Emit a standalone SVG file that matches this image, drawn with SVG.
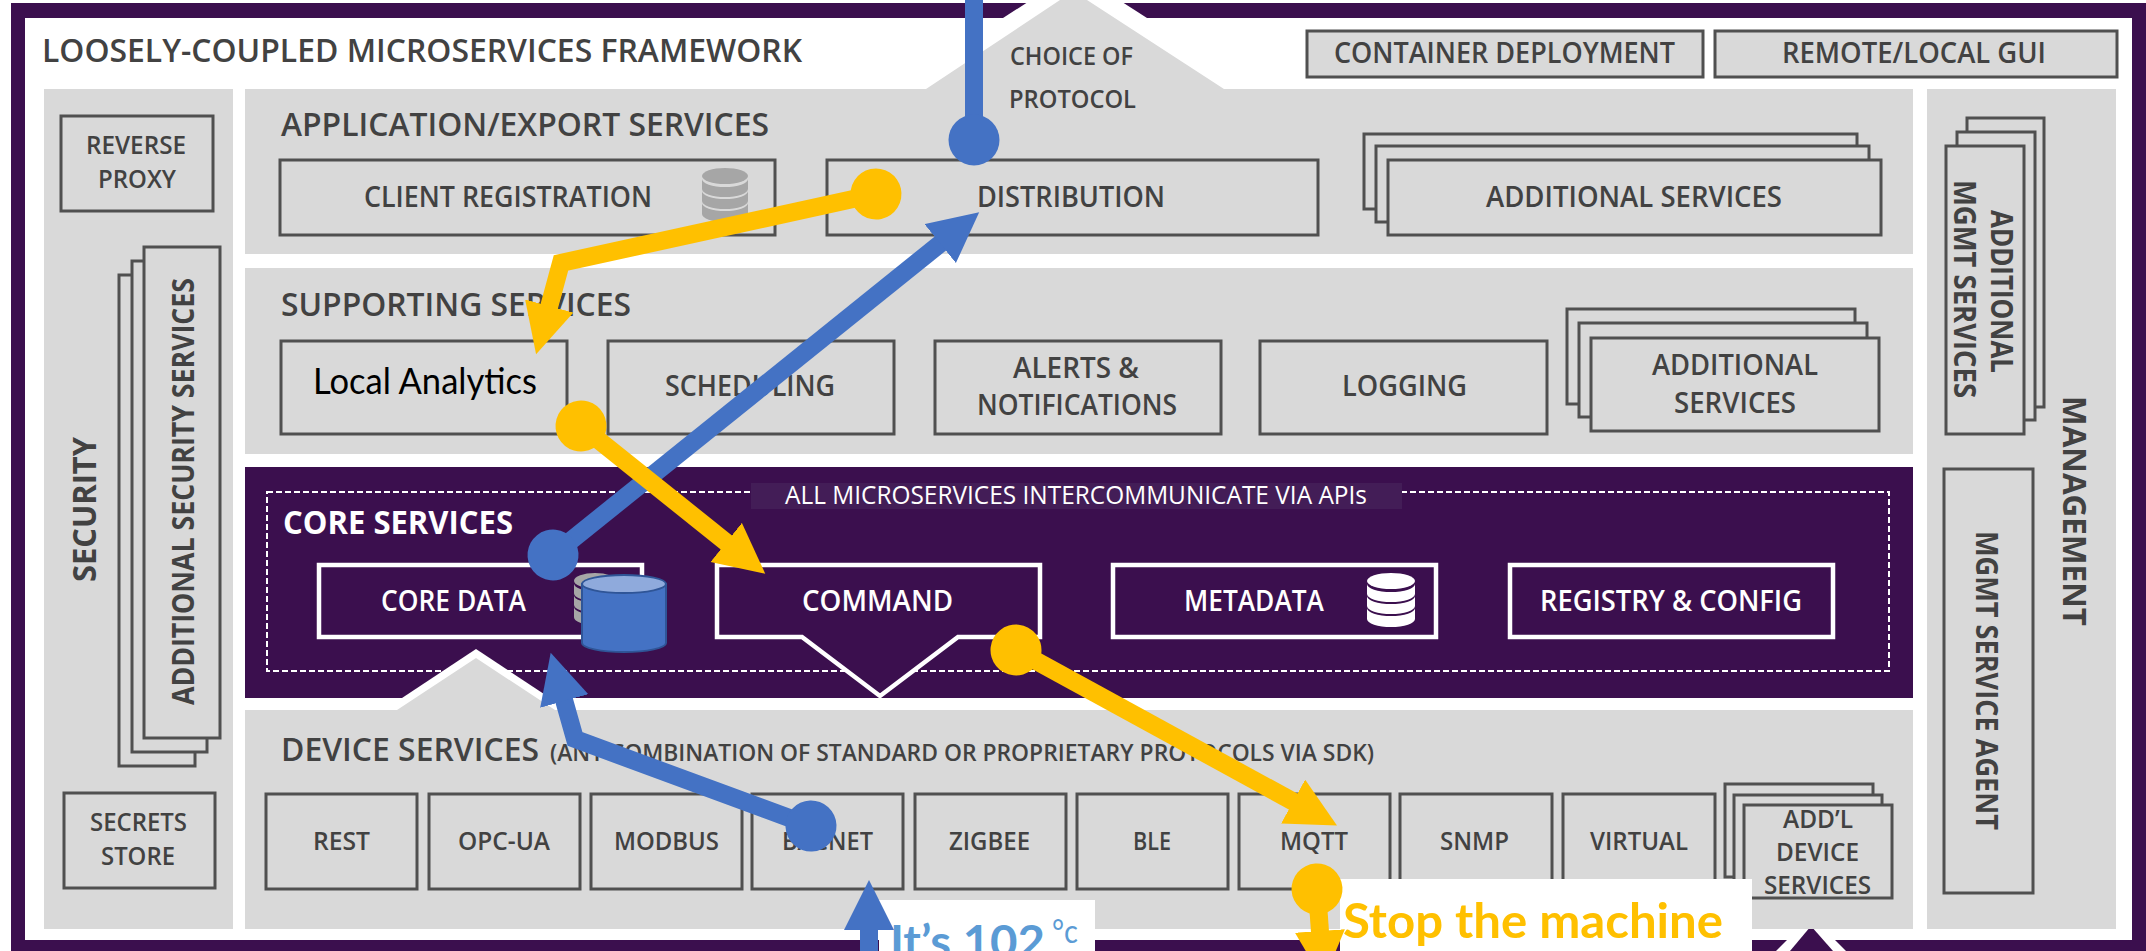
<svg xmlns="http://www.w3.org/2000/svg" width="2146" height="951" viewBox="0 0 2146 951">
<style>
text{font-family:"Open Sans","Liberation Sans",sans-serif;font-weight:600;fill:#424242;font-size:26px}
.h{font-size:32px}
.m{font-size:29px}
.r{font-weight:700;font-size:31px}
.w{fill:#fff}
.cal{font-family:Lato,"Liberation Sans",sans-serif}
.panel{fill:#d9d9d9}
.box{fill:#d9d9d9;stroke:#505050;stroke-width:3}
.cbox{fill:#3b0f4e;stroke:#fff;stroke-width:4.5}
.bl{fill:none;stroke:#4472c4;stroke-width:18}
.ye{fill:none;stroke:#ffc000;stroke-width:18}
</style>
<defs>
<marker id="aB" markerUnits="userSpaceOnUse" markerWidth="54" markerHeight="54" refX="1" refY="25" orient="auto"><path d="M0,0L50,25L0,50z" fill="#4472c4"/></marker>
<marker id="aY" markerUnits="userSpaceOnUse" markerWidth="54" markerHeight="54" refX="1" refY="25" orient="auto"><path d="M0,0L50,25L0,50z" fill="#ffc000"/></marker>
<marker id="dB" markerUnits="userSpaceOnUse" markerWidth="54" markerHeight="54" refX="26" refY="26" orient="auto"><circle cx="26" cy="26" r="25.5" fill="#4472c4"/></marker>
<marker id="dY" markerUnits="userSpaceOnUse" markerWidth="54" markerHeight="54" refX="26" refY="26" orient="auto"><circle cx="26" cy="26" r="25.5" fill="#ffc000"/></marker>
<symbol id="db" viewBox="0 0 46 54" preserveAspectRatio="none">
<ellipse cx="23" cy="8" rx="23" ry="8"/>
<path d="M0,11a23,8 0 0 0 46,0v10a23,8 0 0 1 -46,0z"/>
<path d="M0,23a23,8 0 0 0 46,0v10a23,8 0 0 1 -46,0z"/>
<path d="M0,35a23,8 0 0 0 46,0v11a23,8 0 0 1 -46,0z"/>
</symbol>
</defs>
<rect width="2146" height="951" fill="#fff"/>
<g id="frame">
<rect x="11" y="3" width="2135" height="948" fill="#3b0f4e"/>
<rect x="25" y="18" width="2107" height="922" fill="#fff"/>
<polygon points="1031,0 1119,0 1147,18 1003,18" fill="#fff"/>
<polygon points="1776,951 1811,916 1846,951" fill="#fff"/>
<polygon points="1790,951 1811,926 1833,951" fill="#3b0f4e"/>
<text class="h" x="42" y="62" textLength="760" lengthAdjust="spacingAndGlyphs">LOOSELY-COUPLED MICROSERVICES FRAMEWORK</text>
</g>
<g id="container-deployment"><rect class="box" x="1307" y="31" width="396" height="46"/><text x="1334" y="63" class="m" textLength="341" lengthAdjust="spacingAndGlyphs">CONTAINER DEPLOYMENT</text></g>
<g id="remote-local-gui"><rect class="box" x="1715" y="31" width="402" height="46"/><text x="1782" y="63" class="m" textLength="264" lengthAdjust="spacingAndGlyphs">REMOTE/LOCAL GUI</text></g>

<g id="security">
<rect class="panel" x="44" y="89" width="189" height="840"/>
<text class="r" transform="translate(96,582) rotate(-90)" style="font-size:33px" textLength="145" lengthAdjust="spacingAndGlyphs">SECURITY</text>
</g>
<g id="reverse-proxy"><rect class="box" x="61" y="116" width="152" height="95"/>
<text x="86" y="154" textLength="100" lengthAdjust="spacingAndGlyphs">REVERSE</text>
<text x="98" y="188" textLength="78" lengthAdjust="spacingAndGlyphs">PROXY</text></g>
<g id="additional-security-services">
<rect class="box" x="119" y="275" width="76" height="491"/>
<rect class="box" x="132" y="261" width="75" height="491"/>
<rect class="box" x="144" y="247" width="76" height="491"/>
<text class="r" transform="translate(194,705) rotate(-90)" textLength="427" lengthAdjust="spacingAndGlyphs">ADDITIONAL SECURITY SERVICES</text></g>
<g id="secrets-store"><rect class="box" x="64" y="793" width="151" height="95"/>
<text x="90" y="831" textLength="97" lengthAdjust="spacingAndGlyphs">SECRETS</text>
<text x="101" y="865" textLength="74" lengthAdjust="spacingAndGlyphs">STORE</text></g>

<g id="application-export-services">
<path class="panel" d="M245,89H926L1060,0H1087L1224,89H1913V254H245z"/>
<text x="1010" y="65" textLength="123" lengthAdjust="spacingAndGlyphs">CHOICE OF</text>
<text x="1009" y="108" textLength="127" lengthAdjust="spacingAndGlyphs">PROTOCOL</text>
<text class="h" x="281" y="136" textLength="488" lengthAdjust="spacingAndGlyphs">APPLICATION/EXPORT SERVICES</text>
</g>
<g id="client-registration"><rect class="box" x="280" y="160" width="495" height="75"/>
<text class="m" x="364" y="207" textLength="288" lengthAdjust="spacingAndGlyphs">CLIENT REGISTRATION</text>
<use href="#db" x="702" y="168" width="46" height="54" fill="#a6a6a6"/></g>
<g id="distribution"><rect class="box" x="827" y="160" width="491" height="75"/>
<text class="m" x="977" y="207" textLength="188" lengthAdjust="spacingAndGlyphs">DISTRIBUTION</text></g>
<g id="additional-services-app">
<rect class="box" x="1364" y="134" width="493" height="75"/>
<rect class="box" x="1376" y="146" width="493" height="76"/>
<rect class="box" x="1388" y="160" width="493" height="75"/>
<text class="m" x="1486" y="207" textLength="296" lengthAdjust="spacingAndGlyphs">ADDITIONAL SERVICES</text></g>

<g id="supporting-services">
<rect class="panel" x="245" y="268" width="1668" height="186"/>
<text class="h" x="281" y="316" textLength="350" lengthAdjust="spacingAndGlyphs">SUPPORTING SERVICES</text>
</g>
<g id="local-analytics"><rect class="box" x="281" y="341" width="286" height="93"/>
<text class="cal" x="313" y="394" style="font-size:37px;font-weight:400;fill:#000" textLength="224" lengthAdjust="spacingAndGlyphs">Local Analytics</text></g>
<g id="scheduling"><rect class="box" x="608" y="341" width="286" height="93"/>
<text class="m" x="665" y="396" textLength="170" lengthAdjust="spacingAndGlyphs">SCHEDULING</text></g>
<g id="alerts-notifications"><rect class="box" x="935" y="341" width="286" height="93"/>
<text class="m" x="1013" y="378" textLength="126" lengthAdjust="spacingAndGlyphs">ALERTS &amp;</text>
<text class="m" x="977" y="415" textLength="200" lengthAdjust="spacingAndGlyphs">NOTIFICATIONS</text></g>
<g id="logging"><rect class="box" x="1260" y="341" width="287" height="93"/>
<text class="m" x="1342" y="396" textLength="125" lengthAdjust="spacingAndGlyphs">LOGGING</text></g>
<g id="additional-services-sup">
<rect class="box" x="1567" y="309" width="288" height="95"/>
<rect class="box" x="1579" y="323" width="288" height="94"/>
<rect class="box" x="1591" y="338" width="288" height="93"/>
<text class="m" x="1652" y="375" textLength="166" lengthAdjust="spacingAndGlyphs">ADDITIONAL</text>
<text class="m" x="1674" y="413" textLength="122" lengthAdjust="spacingAndGlyphs">SERVICES</text></g>

<g id="core-services">
<rect x="245" y="467" width="1668" height="231" fill="#3b0f4e"/>
<rect x="267" y="492" width="1622" height="179" fill="none" stroke="#fff" stroke-width="2" stroke-dasharray="6 3"/>
<rect x="751" y="483" width="651" height="26" fill="#431d57"/>
<text class="w" x="785" y="504" style="font-weight:400;font-size:25px" textLength="582" lengthAdjust="spacingAndGlyphs">ALL MICROSERVICES INTERCOMMUNICATE VIA APIs</text>
<text class="h w" x="283" y="534" style="font-weight:700" textLength="230" lengthAdjust="spacingAndGlyphs">CORE SERVICES</text>
</g>
<g id="core-data"><rect class="cbox" x="319" y="565" width="323" height="72"/>
<text class="m w" x="381" y="611" textLength="145" lengthAdjust="spacingAndGlyphs">CORE DATA</text>
<use href="#db" x="574" y="573" width="42" height="52" fill="#a6a6a6"/>
<path d="M582,584V643C582,648 601,652 624,652S666,648 666,643V584z" fill="#4472c4" stroke="#2f5597" stroke-width="2"/>
<ellipse cx="624" cy="584" rx="42" ry="9" fill="#8faadc" stroke="#2f5597" stroke-width="2"/></g>
<g id="command"><path class="cbox" d="M717,565H1040V637H958L880,696L802,637H717z"/>
<text class="m w" x="802" y="611" textLength="151" lengthAdjust="spacingAndGlyphs">COMMAND</text></g>
<g id="metadata"><rect class="cbox" x="1113" y="565" width="323" height="72"/>
<text class="m w" x="1184" y="611" textLength="140" lengthAdjust="spacingAndGlyphs">METADATA</text>
<use href="#db" x="1367" y="573" width="48" height="54" fill="#fff"/></g>
<g id="registry-config"><rect class="cbox" x="1510" y="565" width="323" height="72"/>
<text class="m w" x="1540" y="611" textLength="262" lengthAdjust="spacingAndGlyphs">REGISTRY &amp; CONFIG</text></g>

<g id="device-services">
<polygon points="402,698 476,649 550,698 555,712 397,712" fill="#fff"/>
<path class="panel" d="M245,710H397L476,658L555,710H1913V929H245z"/>
<text class="h" x="281" y="761" textLength="258" lengthAdjust="spacingAndGlyphs">DEVICE SERVICES</text>
<text x="550" y="761" style="font-size:23px" textLength="824" lengthAdjust="spacingAndGlyphs">(ANY COMBINATION OF STANDARD OR PROPRIETARY PROTOCOLS VIA SDK)</text>
</g>
<g id="rest"><rect class="box" x="266" y="794" width="151" height="95"/><text x="313" y="850" textLength="57" lengthAdjust="spacingAndGlyphs">REST</text></g>
<g id="opc-ua"><rect class="box" x="429" y="794" width="151" height="95"/><text x="458" y="850" textLength="92" lengthAdjust="spacingAndGlyphs">OPC-UA</text></g>
<g id="modbus"><rect class="box" x="591" y="794" width="151" height="95"/><text x="614" y="850" textLength="105" lengthAdjust="spacingAndGlyphs">MODBUS</text></g>
<g id="bacnet"><rect class="box" x="752" y="794" width="151" height="95"/><text x="782" y="850" textLength="91" lengthAdjust="spacingAndGlyphs">BACNET</text></g>
<g id="zigbee"><rect class="box" x="915" y="794" width="151" height="95"/><text x="949" y="850" textLength="81" lengthAdjust="spacingAndGlyphs">ZIGBEE</text></g>
<g id="ble"><rect class="box" x="1077" y="794" width="151" height="95"/><text x="1133" y="850" textLength="38" lengthAdjust="spacingAndGlyphs">BLE</text></g>
<g id="mqtt"><rect class="box" x="1239" y="794" width="151" height="95"/><text x="1280" y="850" textLength="68" lengthAdjust="spacingAndGlyphs">MQTT</text></g>
<g id="snmp"><rect class="box" x="1400" y="794" width="152" height="95"/><text x="1440" y="850" textLength="69" lengthAdjust="spacingAndGlyphs">SNMP</text></g>
<g id="virtual"><rect class="box" x="1563" y="794" width="152" height="95"/><text x="1590" y="850" textLength="98" lengthAdjust="spacingAndGlyphs">VIRTUAL</text></g>
<g id="addl-device-services">
<rect class="box" x="1725" y="784" width="148" height="93"/>
<rect class="box" x="1734" y="795" width="148" height="93"/>
<rect class="box" x="1744" y="805" width="148" height="93"/>
<text x="1783" y="828" textLength="70" lengthAdjust="spacingAndGlyphs">ADD’L</text>
<text x="1776" y="861" textLength="83" lengthAdjust="spacingAndGlyphs">DEVICE</text>
<text x="1764" y="894" textLength="107" lengthAdjust="spacingAndGlyphs">SERVICES</text></g>

<g id="management">
<rect class="panel" x="1927" y="89" width="189" height="840"/>
<text class="r" transform="translate(2063,396) rotate(90)" style="font-size:33px" textLength="230" lengthAdjust="spacingAndGlyphs">MANAGEMENT</text>
</g>
<g id="additional-mgmt-services">
<rect class="box" x="1967" y="118" width="77" height="289"/>
<rect class="box" x="1957" y="132" width="78" height="288"/>
<rect class="box" x="1946" y="146" width="78" height="288"/>
<text class="r" transform="translate(1991,210) rotate(90)" textLength="163" lengthAdjust="spacingAndGlyphs">ADDITIONAL</text>
<text class="r" transform="translate(1954,180) rotate(90)" textLength="218" lengthAdjust="spacingAndGlyphs">MGMT SERVICES</text></g>
<g id="mgmt-service-agent"><rect class="box" x="1944" y="469" width="89" height="424"/>
<text class="r" transform="translate(1976,531) rotate(90)" textLength="299" lengthAdjust="spacingAndGlyphs">MGMT SERVICE AGENT</text></g>

<g id="msg-temperature"><rect x="879" y="900" width="216" height="51" fill="#fff"/>
<text class="cal" x="890" y="958" style="font-size:46px;font-weight:700;fill:#5b9bd5"><tspan textLength="155" lengthAdjust="spacingAndGlyphs">It’s 102</tspan><tspan x="1052" y="943" style="font-size:33px;font-weight:400" textLength="26" lengthAdjust="spacingAndGlyphs">°c</tspan></text></g>
<g id="msg-stop"><rect x="1340" y="879" width="412" height="72" fill="#fff"/>
<text class="cal" x="1343" y="938" style="font-size:48px;font-weight:700;fill:#ffc000" textLength="380" lengthAdjust="spacingAndGlyphs">Stop the machine</text></g>

<g id="connectors">
<path class="bl" d="M974,-10V140" marker-end="url(#dB)"/>
<path class="bl" d="M553,555L941,243" marker-start="url(#dB)" marker-end="url(#aB)"/>
<path class="bl" d="M811,826L575,739L564,700" marker-start="url(#dB)" marker-end="url(#aB)"/>
<path class="bl" d="M869,960V929" marker-end="url(#aB)"/>
<path class="ye" d="M876,194L561,263L549,307" marker-start="url(#dY)" marker-end="url(#aY)"/>
<path class="ye" d="M581,426L727,543" marker-start="url(#dY)" marker-end="url(#aY)"/>
<path class="ye" d="M1016,650L1294,802" marker-start="url(#dY)" marker-end="url(#aY)"/>
<path class="ye" d="M1317,889L1320,932" marker-start="url(#dY)" marker-end="url(#aY)"/>
</g>
</svg>
